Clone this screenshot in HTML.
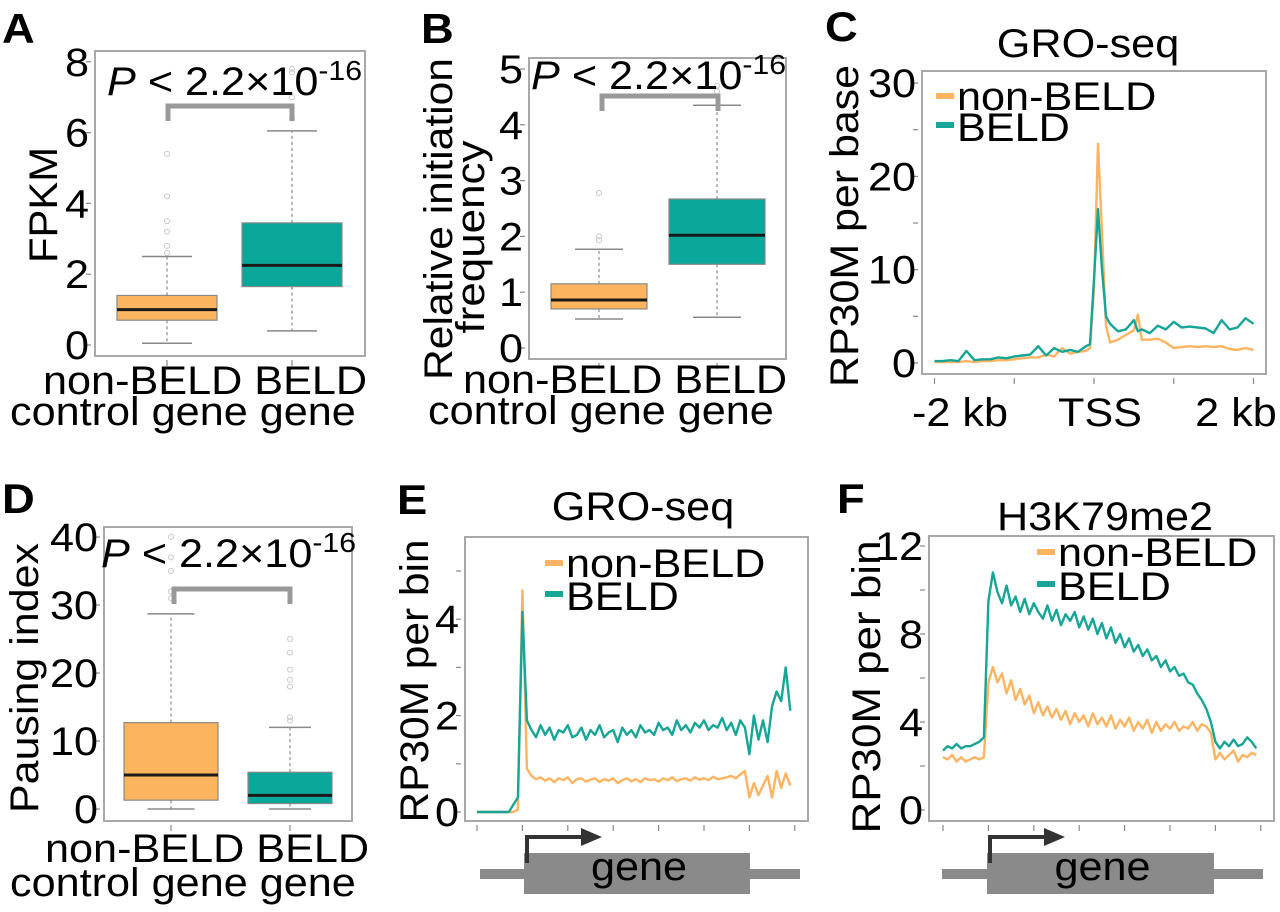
<!DOCTYPE html>
<html><head><meta charset="utf-8"><style>
html,body{margin:0;padding:0;background:#fff;}
svg{display:block;font-family:"Liberation Sans",Arial,sans-serif;}
</style></head><body>
<svg id="fig" width="1280" height="912" viewBox="0 0 1280 912" xmlns="http://www.w3.org/2000/svg"></svg>
<script>
// ---------- DATA ----------
const boxCategories = ["non-BELD control gene", "BELD gene"];
// [lower whisker, q1, median, q3, upper whisker]
const statsA_nonBELD = [0.05, 0.7, 1.0, 1.4, 2.5];
const statsA_BELD = [0.4, 1.65, 2.25, 3.45, 6.05];
const outA_nonBELD = [5.4, 4.2, 3.5, 3.2, 2.8, 2.6];
const outA_BELD = [7.8, 7.7, 7.0, 6.4];
const statsB_nonBELD = [0.52, 0.7, 0.86, 1.15, 1.77];
const statsB_BELD = [0.55, 1.5, 2.02, 2.67, 4.35];
const outB_nonBELD = [2.78, 2.0, 1.93];
const outB_BELD = [4.6, 4.7];
const statsD_nonBELD = [0, 1.3, 5.0, 12.7, 28.7];
const statsD_BELD = [0, 0.8, 2.0, 5.4, 12.0];
const outD_nonBELD = [31, 32, 35, 37, 40];
const outD_BELD = [13, 13.5, 18, 19, 20.5, 23, 25];
const ticksA = [0, 2, 4, 6, 8];
const ticksB = [0, 1, 2, 3, 4, 5];
const ticksD = [0, 10, 20, 30, 40];

const xC = [-2,-1.9,-1.8,-1.7,-1.6,-1.5,-1.4,-1.3,-1.2,-1.1,-1,-0.9,-0.8,-0.7,-0.6,-0.5,-0.4,-0.3,-0.2,-0.1,-0.05,0,0.05,0.1,0.15,0.2,0.3,0.4,0.5,0.55,0.6,0.7,0.8,0.9,1,1.1,1.2,1.3,1.4,1.5,1.6,1.7,1.8,1.9,2];
const yC_nonBELD = [0.1,0.1,0.1,0.1,0.2,0.1,0.2,0.2,0.3,0.3,0.4,0.5,0.6,0.6,0.9,0.7,1.6,1.0,1.2,1.3,1.6,8,23.5,14,4,2.2,2.5,3,3.5,5.2,2.5,2.5,2.6,2.2,1.6,1.7,1.8,1.7,1.8,1.7,1.8,1.5,1.4,1.6,1.4];
const yC_BELD = [0.2,0.2,0.3,0.2,1.3,0.3,0.4,0.4,0.6,0.5,0.7,0.8,0.9,1.8,0.8,1.6,1.2,1.4,1.2,1.8,2,9,16.5,10,5,4.2,3.4,3.6,4.6,3.4,3.6,3.2,4.0,3.6,4.4,3.8,3.9,3.8,3.7,3.2,4.6,3.6,3.8,4.8,4.2];
const ticksC = [0,5,10,15,20,25,30];
const labelsC = ["0","","10","","20","","30"];
const xTicksC = [-2,-1,0,1,2];

const binStep = 0.1;
const yE_BELD = [0,0,0,0,0,0,0,0,0.15,0.3,4.15,1.9,
1.7,1.55,1.8,1.6,1.75,1.5,1.7,1.65,1.8,1.55,1.6,1.75,1.5,1.7,1.6,1.8,1.55,1.65,1.7,1.45,1.75,1.6,1.7,1.55,1.8,1.65,1.7,1.6,1.85,1.7,1.75,1.6,1.9,1.7,1.8,1.65,1.85,1.75,1.9,1.7,1.8,1.75,1.95,1.7,1.85,1.6,1.9,1.75,
1.2,2.0,1.5,1.9,1.45,2.2,2.5,2.3,3.0,2.1];
const yE_nonBELD = [0,0,0,0,0,0,0,0,0,0.05,4.6,0.9,
0.75,0.68,0.72,0.65,0.7,0.62,0.7,0.66,0.72,0.6,0.68,0.7,0.63,0.67,0.7,0.62,0.68,0.65,0.7,0.6,0.66,0.7,0.64,0.68,0.62,0.7,0.66,0.68,0.63,0.7,0.66,0.72,0.64,0.68,0.7,0.65,0.72,0.67,0.7,0.66,0.73,0.68,0.7,0.72,0.75,0.7,0.78,0.85,
0.3,0.6,0.35,0.55,0.75,0.3,0.85,0.5,0.8,0.55];
const yF_BELD = [2.7,2.9,2.8,3.0,2.8,2.9,2.9,3.0,3.1,3.3,9.5,10.8,
9.9,9.4,10.2,9.3,9.7,9.0,9.6,8.9,9.4,9.0,8.7,9.3,8.6,9.1,8.4,8.9,8.6,9.0,8.3,8.8,8.2,8.7,8.0,8.5,7.8,8.3,7.6,8.0,7.4,7.8,7.2,7.5,7.0,7.3,6.8,7.0,6.5,6.8,6.3,6.5,6.1,6.2,5.8,5.7,5.3,5.0,4.6,4.0,
3.1,2.8,3.1,2.9,3.2,2.9,3.0,3.3,3.1,2.8];
const yF_nonBELD = [2.4,2.3,2.5,2.2,2.4,2.2,2.3,2.4,2.3,2.4,5.8,6.5,
5.8,6.2,5.3,5.9,5.0,5.5,4.8,5.2,4.4,4.9,4.3,4.7,4.2,4.6,4.1,4.5,3.9,4.4,4.0,4.3,3.8,4.4,3.9,4.2,3.8,4.3,3.7,4.1,3.8,4.2,3.6,4.0,3.7,4.1,3.5,4.0,3.6,3.9,3.7,4.0,3.6,3.8,3.7,4.0,3.6,3.9,3.8,3.5,
2.3,2.6,2.3,2.5,2.7,2.2,2.5,2.4,2.6,2.5];
const ticksE = [0,1,2,3,4,5];
const labelsE = ["0","","2","","4",""];
const ticksF = [0,2,4,6,8,10,12];
const labelsF = ["0","","4","","8","","12"];
const xTicksGene = [0,1,2,3,4,5,6,7];

// ---------- DRAWING ----------
const NS = "http://www.w3.org/2000/svg";
const svg = document.getElementById("fig");
const ORANGE = "#fdb45e", TEAL = "#0aa89a", ORANGE_L = "#fdb462", TEAL_L = "#16a596";
const SX = 1.08;
const FS = 40;

function mk(tag, attrs, name, parent) {
  const el = document.createElementNS(NS, tag);
  for (const k in attrs) el.setAttribute(k, attrs[k]);
  
  
  (parent || svg).appendChild(el);
  return el;
}
function txt(x, y, s, name, size, anchor, weight) {
  const t = mk("text", {transform: `translate(${x},${y}) scale(${SX},1)`, "font-size": size || FS, "text-anchor": anchor || "start", "font-weight": weight || "normal", fill: "#000"}, name);
  t.textContent = s;
  return t;
}
function rtxt(x, y, s, name, len) {
  const t = mk("text", {transform: `translate(${x},${y}) rotate(-90)`, "font-size": FS, "text-anchor": "middle", textLength: len, lengthAdjust: "spacingAndGlyphs", fill: "#000"}, name);
  t.textContent = s;
  return t;
}
function frame(f, name) {
  mk("rect", {x: f.x0, y: f.y0, width: f.x1 - f.x0, height: f.y1 - f.y0, fill: "none", stroke: "#a8a8a8", "stroke-width": 2}, name);
}
function yAxis(f, ticks, labels, ys, prefix) {
  ticks.forEach((v, i) => {
    const y = ys(v);
    mk("line", {x1: f.x0 - 9, x2: f.x0 - 4, y1: y, y2: y, stroke: "#888", "stroke-width": 1.2}, prefix + "-y-tick");
    if (labels[i] !== "") txt(f.x0 - 6, y + 14, labels[i], prefix + "-y-tick-label", FS, "end");
  });
}
function pText(x, y, name) {
  const t = mk("text", {transform: `translate(${x},${y}) scale(${SX},1)`, "font-size": FS, fill: "#000"}, name);
  const a = mk("tspan", {"font-style": "italic"}, "p-symbol", t); a.textContent = "P";
  const b = mk("tspan", {}, "p-value", t); b.textContent = " < 2.2×10";
  const c = mk("tspan", {dy: -15, "font-size": 28}, "p-exponent", t); c.textContent = "-16";
}
function bracket(x1, x2, y, name) {
  mk("path", {d: `M${x1},${y + 15} V${y} H${x2} V${y + 15}`, fill: "none", stroke: "#999", "stroke-width": 5}, name);
}
function boxplot(prefix, f, ys, xc, hw, st, outl, color) {
  const capHw = hw * 0.5;
  mk("line", {x1: xc, x2: xc, y1: ys(st[3]), y2: ys(st[4]), stroke: "#888", "stroke-width": 1.2, "stroke-dasharray": "3,3"}, prefix + "-upper-whisker");
  mk("line", {x1: xc, x2: xc, y1: ys(st[1]), y2: ys(st[0]), stroke: "#888", "stroke-width": 1.2, "stroke-dasharray": "3,3"}, prefix + "-lower-whisker");
  mk("line", {x1: xc - capHw, x2: xc + capHw, y1: ys(st[4]), y2: ys(st[4]), stroke: "#888", "stroke-width": 1.5}, prefix + "-upper-cap");
  mk("line", {x1: xc - capHw, x2: xc + capHw, y1: ys(st[0]), y2: ys(st[0]), stroke: "#888", "stroke-width": 1.5}, prefix + "-lower-cap");
  mk("rect", {x: xc - hw, y: ys(st[3]), width: 2 * hw, height: ys(st[1]) - ys(st[3]), fill: color, stroke: "#888", "stroke-width": 1.2}, prefix + "-box");
  mk("line", {x1: xc - hw, x2: xc + hw, y1: ys(st[2]), y2: ys(st[2]), stroke: "#1a1a1a", "stroke-width": 3}, prefix + "-median");
  outl.forEach(v => {
    mk("circle", {cx: xc, cy: ys(v), r: 2.5, fill: "none", stroke: "#c8c8c8", "stroke-width": 1}, prefix + "-outlier");
  });
  mk("line", {x1: xc, x2: xc, y1: f.y1 + 4, y2: f.y1 + 10, stroke: "#888", "stroke-width": 1.2}, prefix + "-x-tick");
}
function xLabels2(x1, x2, y1, y2, prefix) {
  txt(x1, y1, "non-BELD BELD", prefix + "-x-labels-line1", FS, "start");
  txt(x2, y2, "control gene gene", prefix + "-x-labels-line2", FS, "start");
}
function linePath(xs, ysArr, sx, sy, color, name) {
  let d = "";
  ysArr.forEach((v, i) => { d += (i ? "L" : "M") + sx(xs[i]).toFixed(1) + "," + sy(v).toFixed(1); });
  mk("path", {d: d, fill: "none", stroke: color, "stroke-width": 2.4, "stroke-linejoin": "round"}, name);
}
function legend(x, y1, y2, prefix) {
  mk("line", {x1: x, x2: x + 18, y1: y1, y2: y1, stroke: ORANGE_L, "stroke-width": 6}, prefix + "-legend-swatch-non-beld");
  txt(x + 21, y1 + 14, "non-BELD", prefix + "-legend-label-non-beld", FS);
  mk("line", {x1: x, x2: x + 18, y1: y2, y2: y2, stroke: TEAL_L, "stroke-width": 6}, prefix + "-legend-swatch-beld");
  txt(x + 21, y2 + 16, "BELD", prefix + "-legend-label-beld", FS);
}
function geneDiagram(x0, x1, xt, xe, prefix) {
  mk("line", {x1: x0, x2: x1, y1: 874, y2: 874, stroke: "#8a8a8a", "stroke-width": 10}, prefix + "-gene-flank");
  mk("rect", {x: xt, y: 853, width: xe - xt, height: 41, fill: "#8a8a8a"}, prefix + "-gene-body");
  mk("path", {d: `M${xt + 3},863 V837 H${xt + 60}`, fill: "none", stroke: "#333", "stroke-width": 4}, prefix + "-tss-arrow");
  mk("path", {d: `M${xt + 57},828 L${xt + 78},837 L${xt + 57},846 Z`, fill: "#333"}, prefix + "-tss-arrowhead");
  txt((xt + xe) / 2 + 2, 880, "gene", prefix + "-gene-label", FS, "middle");
}

// ---- Panel A ----
const fA = {x0: 95, x1: 365, y0: 51, y1: 356};
const yA = v => 345 - v * 35.4;
txt(2, 43, "A", "panel-label-a", 42, "start", "bold");
frame(fA, "panel-a-frame");
yAxis(fA, ticksA, ticksA.map(String), yA, "panel-a");
boxplot("panel-a-non-beld", fA, yA, 167, 50, statsA_nonBELD, outA_nonBELD, ORANGE);
boxplot("panel-a-beld", fA, yA, 292, 50, statsA_BELD, outA_BELD, TEAL);
bracket(168, 292, 106, "panel-a-significance-bracket");
pText(107, 95, "panel-a-p-value");
rtxt(57, 205, "FPKM", "panel-a-y-axis-title", 116);
xLabels2(43, 10, 394, 425, "panel-a");

// ---- Panel B ----
const fB = {x0: 529, x1: 786, y0: 58, y1: 359};
const yB = v => 348 - v * 55.8;
txt(421, 43, "B", "panel-label-b", 42, "start", "bold");
frame(fB, "panel-b-frame");
yAxis(fB, ticksB, ticksB.map(String), yB, "panel-b");
boxplot("panel-b-non-beld", fB, yB, 599, 48, statsB_nonBELD, outB_nonBELD, ORANGE);
boxplot("panel-b-beld", fB, yB, 717, 48, statsB_BELD, outB_BELD, TEAL);
bracket(602, 718, 96, "panel-b-significance-bracket");
pText(531, 89, "panel-b-p-value");
rtxt(452, 219, "Relative initiation", "panel-b-y-axis-title-line1", 322);
rtxt(484, 237, "frequency", "panel-b-y-axis-title-line2", 193);
xLabels2(463, 428, 393, 424, "panel-b");

// ---- Panel C ----
const fC = {x0: 922, x1: 1266, y0: 71, y1: 374};
const sxC = v => 1094 + v * 79.75;
const syC = v => 363 - v * 9.33;
txt(825, 41, "C", "panel-label-c", 42, "start", "bold");
txt(1088, 57, "GRO-seq", "panel-c-title", FS, "middle");
frame(fC, "panel-c-frame");
yAxis(fC, ticksC, labelsC, syC, "panel-c");
xTicksC.forEach(v => mk("line", {x1: sxC(v), x2: sxC(v), y1: fC.y1 + 4, y2: fC.y1 + 10, stroke: "#888", "stroke-width": 1.2}, "panel-c-x-tick"));
linePath(xC, yC_nonBELD, sxC, syC, ORANGE_L, "panel-c-line-non-beld");
linePath(xC, yC_BELD, sxC, syC, TEAL_L, "panel-c-line-beld");
legend(936, 96, 125, "panel-c");
rtxt(858, 226, "RP30M per base", "panel-c-y-axis-title", 322);
txt(960, 426, "-2 kb", "panel-c-x-label-minus-2kb", FS, "middle");
txt(1100, 426, "TSS", "panel-c-x-label-tss", FS, "middle");
txt(1236, 426, "2 kb", "panel-c-x-label-2kb", FS, "middle");

// ---- Panel D ----
const fD = {x0: 104, x1: 352, y0: 527, y1: 821};
const yD = v => 809 - v * 6.8;
txt(2, 513, "D", "panel-label-d", 42, "start", "bold");
frame(fD, "panel-d-frame");
yAxis(fD, ticksD, ticksD.map(String), yD, "panel-d");
boxplot("panel-d-non-beld", fD, yD, 171, 47, statsD_nonBELD, outD_nonBELD, ORANGE);
boxplot("panel-d-beld", fD, yD, 290, 42, statsD_BELD, outD_BELD, TEAL);
bracket(174, 290, 589, "panel-d-significance-bracket");
pText(101, 567, "panel-d-p-value");
rtxt(38, 678, "Pausing index", "panel-d-y-axis-title", 270);
xLabels2(45, 10, 862, 896, "panel-d");

// ---- Panel E ----
const fE = {x0: 465, x1: 808, y0: 537, y1: 821};
const sxE = v => 477 + v * 45.4;
const syE = v => 812 - v * 48.2;
const xE = yE_BELD.map((_, i) => i * binStep);
txt(397, 514, "E", "panel-label-e", 42, "start", "bold");
txt(643, 520, "GRO-seq", "panel-e-title", FS, "middle");
frame(fE, "panel-e-frame");
yAxis(fE, ticksE, labelsE, syE, "panel-e");
xTicksGene.forEach(v => mk("line", {x1: sxE(v), x2: sxE(v), y1: fE.y1 + 4, y2: fE.y1 + 10, stroke: "#888", "stroke-width": 1.2}, "panel-e-x-tick"));
linePath(xE, yE_nonBELD, sxE, syE, ORANGE_L, "panel-e-line-non-beld");
linePath(xE, yE_BELD, sxE, syE, TEAL_L, "panel-e-line-beld");
legend(545, 563, 594, "panel-e");
rtxt(428, 681, "RP30M per bin", "panel-e-y-axis-title", 283);
geneDiagram(480, 800, 524, 750, "panel-e");

// ---- Panel F ----
const fF = {x0: 929, x1: 1274, y0: 536, y1: 821};
const sxF = v => 943 + v * 45.4;
const syF = v => 810 - v * 22;
const xF = yF_BELD.map((_, i) => i * binStep);
txt(837, 513, "F", "panel-label-f", 42, "start", "bold");
txt(1105, 530, "H3K79me2", "panel-f-title", FS, "middle");
frame(fF, "panel-f-frame");
yAxis(fF, ticksF, labelsF, syF, "panel-f");
xTicksGene.forEach(v => mk("line", {x1: sxF(v), x2: sxF(v), y1: fF.y1 + 4, y2: fF.y1 + 10, stroke: "#888", "stroke-width": 1.2}, "panel-f-x-tick"));
linePath(xF, yF_nonBELD, sxF, syF, ORANGE_L, "panel-f-line-non-beld");
linePath(xF, yF_BELD, sxF, syF, TEAL_L, "panel-f-line-beld");
legend(1037, 552, 584, "panel-f");
rtxt(880, 687, "RP30M per bin", "panel-f-y-axis-title", 293);
geneDiagram(942, 1263, 987, 1214, "panel-f");
</script>
</body></html>
